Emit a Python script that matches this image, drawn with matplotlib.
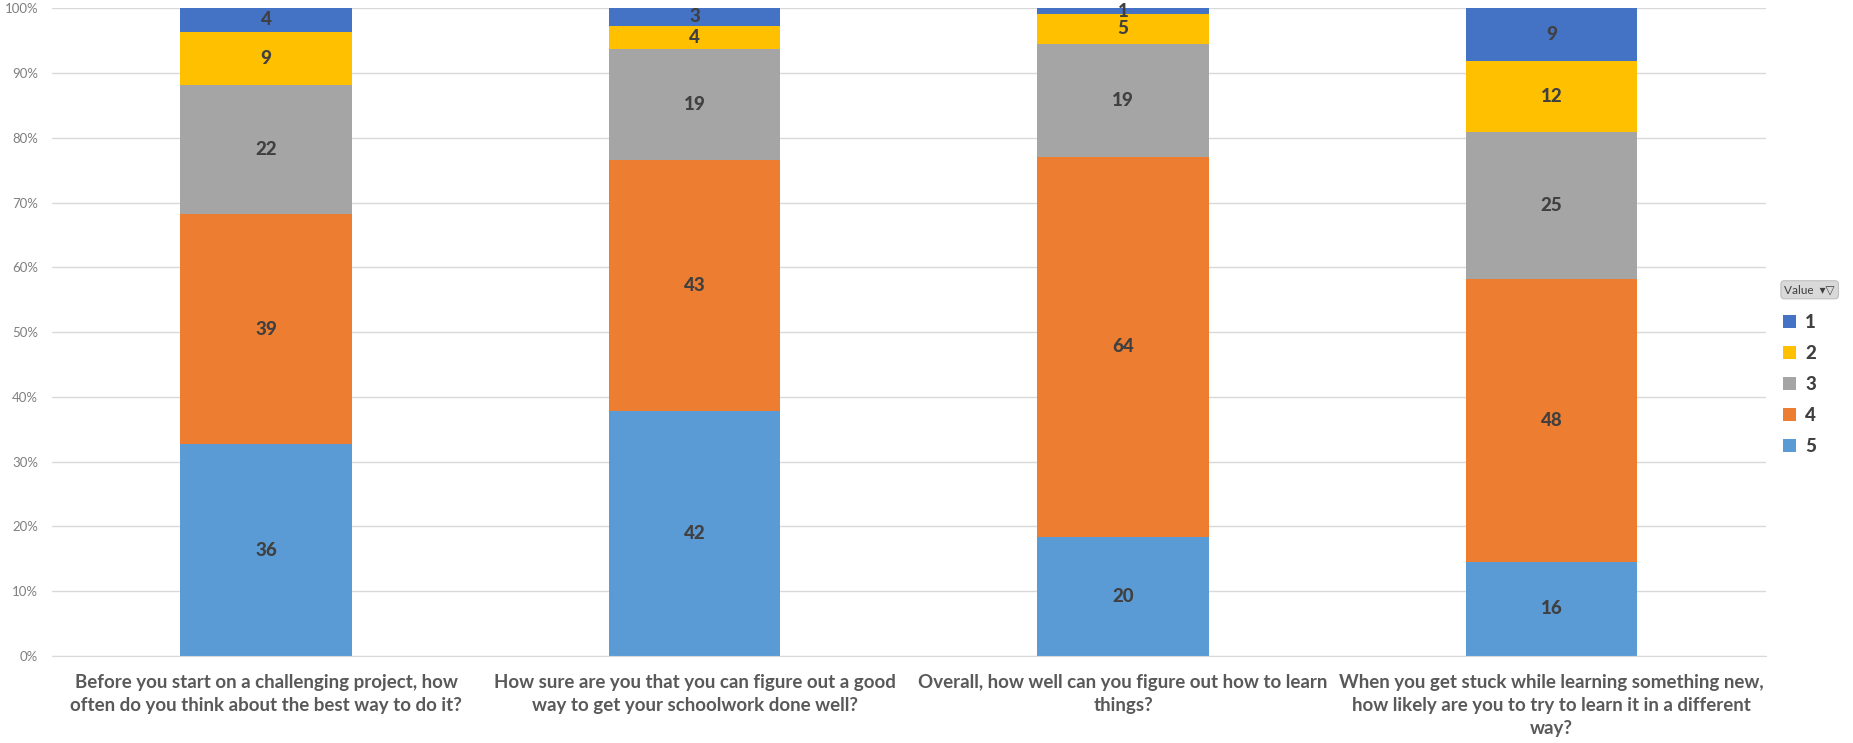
import numpy as np
import matplotlib.pyplot as plt
from matplotlib.patches import Patch

# -------------------------
# Data (counts per answer value)
# -------------------------
categories = [
    "Before you start on a challenging project, how\noften do you think about the best way to do it?",
    "How sure are you that you can figure out a good\nway to get your schoolwork done well?",
    "Overall, how well can you figure out how to learn\nthings?",
    "When you get stuck while learning something new,\nhow likely are you to try to learn it in a different\nway?",
]
values = ["5", "4", "3", "2", "1"]  # stacking order, bottom to top
counts_5 = [36, 42, 20, 16]
counts_4 = [39, 43, 64, 48]
counts_3 = [22, 19, 19, 25]
counts_2 = [9, 4, 5, 12]
counts_1 = [4, 3, 1, 9]

colors = {"1": "#4472C4", "2": "#FFC000", "3": "#A5A5A5", "4": "#ED7D31", "5": "#5B9BD5"}

plt.rcParams["font.family"] = ["Lato", "DejaVu Sans"]

counts = np.array([counts_5, counts_4, counts_3, counts_2, counts_1], dtype=float)
shares = counts / counts.sum(axis=0)

fig = plt.figure(figsize=(18.53, 7.43), dpi=100)
ax = fig.add_axes([0.028, 0.117, 0.925, 0.872])

x = np.arange(len(categories))
bottom = np.zeros(len(categories))
for i, v in enumerate(values):
    ax.bar(x, shares[i], width=0.4, bottom=bottom, color=colors[v], zorder=2)
    for xi, s, b, c in zip(x, shares[i], bottom, counts[i]):
        ax.text(xi, b + s / 2, f"{int(c)}", ha="center", va="center",
                fontsize=13.5, fontweight="black", color="#404040", zorder=3)
    bottom += shares[i]

ax.set_xlim(-0.5, len(categories) - 0.5)
ax.set_ylim(0, 1)
ax.set_yticks(np.arange(0, 1.01, 0.1))
ax.set_yticklabels([f"{int(round(t * 100))}%" for t in np.arange(0, 1.01, 0.1)],
                   fontsize=9.5, color="#7f7f7f")
ax.yaxis.grid(True, color="#d9d9d9", linewidth=1, zorder=0)
ax.set_xticks(x)
ax.set_xticklabels(categories, fontsize=13.5, fontweight="bold", color="#595959",
                   linespacing=1.42, va="top")
ax.tick_params(axis="both", length=0)
ax.tick_params(axis="x", pad=13)
ax.tick_params(axis="y", pad=10)
for side in ["top", "right", "left"]:
    ax.spines[side].set_visible(False)
ax.spines["bottom"].set_color("#d9d9d9")

# legend with the pivot "Value" button
handles = [Patch(facecolor=colors[v], label=v) for v in ["1", "2", "3", "4", "5"]]
leg = fig.legend(handles=handles, loc="upper left", bbox_to_anchor=(0.953, 0.6),
                 frameon=False, handlelength=0.7, handleheight=0.7, handletextpad=0.5,
                 labelspacing=0.75, prop={"size": 13.5, "weight": "black"})
for t in leg.get_texts():
    t.set_color("#404040")
fig.text(0.963, 0.61, "Value  \u25be\u25bd", fontsize=8.5, color="#404040",
         ha="left", va="center",
         bbox=dict(boxstyle="round,pad=0.3,rounding_size=0.3", facecolor="#d9d9d9",
                   edgecolor="#bfbfbf", linewidth=0.8))

fig.savefig("out.png", dpi=100)
